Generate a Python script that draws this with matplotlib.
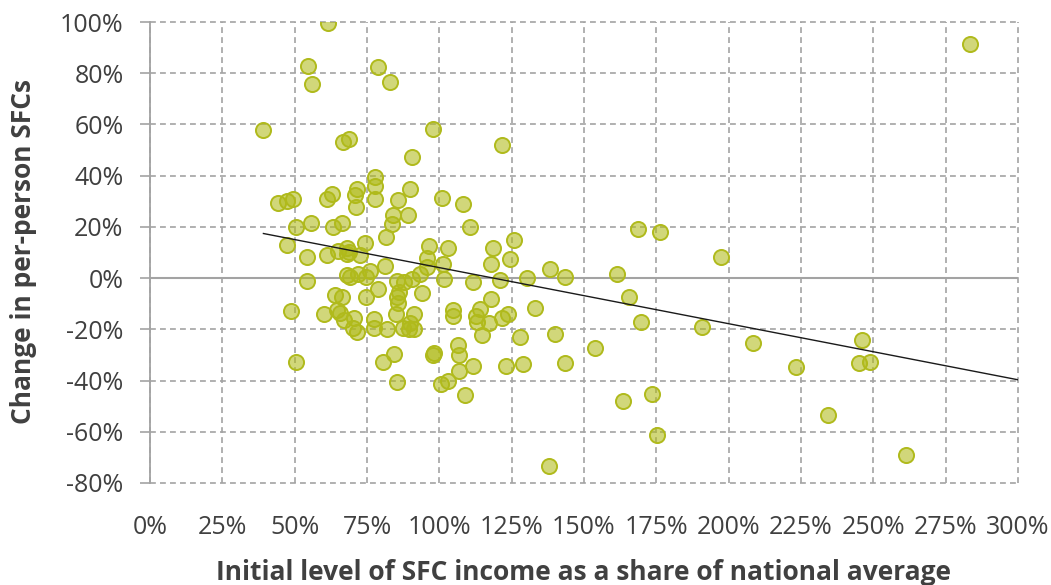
import numpy as np
import matplotlib
matplotlib.use("Agg")
import matplotlib.pyplot as plt
from matplotlib.ticker import FuncFormatter, MultipleLocator

# Initial level of SFC income as a share of national average (%)
x_share = [
    39.2, 54.7, 56.0, 61.5, 78.8, 82.8, 66.8, 68.8, 97.9, 90.7, 121.8, 100.9, 108.1, 283.4,
    44.3, 47.2, 49.3, 61.3, 63.0, 71.4, 71.0, 71.3, 77.9, 77.9, 77.9, 85.8, 89.9, 84.1,
    83.5, 89.2, 50.5, 55.7, 63.1, 66.4, 47.2, 54.4, 61.2, 65.1, 68.2, 68.8, 68.0, 72.6,
    74.3, 81.6, 96.5, 95.8, 95.8, 93.3, 90.6, 87.8, 85.5, 81.2, 76.0, 74.5, 71.8, 68.0,
    69.1, 54.4, 101.6, 78.9, 74.7, 63.9, 66.5, 86.2, 85.4, 85.7, 94.0, 48.8, 60.3, 64.5,
    65.7, 66.9, 70.6, 70.3, 71.4, 77.4, 77.4, 81.8, 85.0, 91.2, 87.3, 89.4, 90.0, 91.2,
    50.6, 80.6, 84.4, 85.3, 98.2, 97.8, 100.6, 103.0, 108.9, 110.7, 125.9, 118.7, 117.9,
    124.4, 103.0, 101.4, 111.7, 121.0, 130.4, 138.2, 143.3, 161.3, 117.8, 104.8, 104.6,
    114.1, 112.6, 113.1, 117.3, 121.6, 123.7, 133.1, 140.0, 114.7, 128.0, 153.9, 106.4,
    106.9, 106.8, 111.8, 123.0, 129.0, 143.5, 137.8, 168.8, 176.4, 197.2, 165.7, 169.6,
    190.8, 208.5, 223.3, 246.0, 244.9, 248.8, 163.5, 173.6, 175.1, 234.5, 261.2,
]
# Change in per-person SFCs (%)
change = [
    57.8, 82.8, 75.8, 99.7, 82.3, 76.6, 53.2, 54.4, 58.2, 47.3, 52.1, 31.1, 28.9, 91.4,
    29.4, 30.2, 31.0, 30.7, 32.8, 34.9, 32.3, 27.9, 39.6, 35.9, 30.7, 30.5, 34.6, 24.5,
    21.1, 24.7, 19.8, 21.4, 19.8, 21.6, 12.9, 8.1, 8.9, 10.7, 11.6, 10.3, 9.4, 9.1,
    13.8, 15.9, 12.4, 8.0, 4.5, 1.8, -0.4, -1.4, -1.0, 4.7, 2.6, 0.3, 1.6, 1.1,
    0.3, -1.1, -0.5, -4.2, -7.3, -6.6, -7.3, -5.3, -7.3, -9.6, -6.0, -13.0, -14.2, -12.5,
    -13.8, -16.2, -15.7, -19.3, -21.0, -15.8, -19.3, -19.8, -13.9, -14.1, -19.3, -19.8, -17.4, -19.7,
    -32.8, -32.8, -29.6, -40.4, -29.4, -29.9, -41.4, -40.1, -45.8, 19.8, 14.7, 11.6, 5.6,
    7.4, 11.6, 5.6, -1.4, -0.9, -0.1, 3.6, 0.3, 1.8, -8.3, -12.5, -14.7,
    -12.0, -14.6, -17.2, -17.5, -15.5, -14.1, -11.7, -21.8, -22.4, -23.1, -27.2, -26.0,
    -30.2, -36.1, -34.4, -34.2, -33.7, -33.3, -73.2, 19.1, 17.9, 8.2, -7.5, -17.1,
    -19.1, -25.4, -34.9, -24.3, -33.1, -32.6, -47.9, -45.4, -61.4, -53.4, -69.0,
]

# Linear trendline as shown in the chart (percentage points)
trend_intercept = 26.0
trend_slope = -0.219
trend_x_end = 300

x_label = "Initial level of SFC income as a share of national average"
y_label = "Change in per-person SFCs"

plt.rcParams['font.family'] = ['Open Sans', 'DejaVu Sans']

fig = plt.figure(figsize=(10.51, 5.85), dpi=100)
ax = fig.add_axes([150/1051, 1-483/585, (1018-150)/1051, (483-22)/585])

xs = np.array(x_share)
ys = np.array(change)

ax.scatter(xs, ys, s=118, facecolor=(0.69, 0.73, 0.10, 0.58),
           edgecolor='#b0ba1c', linewidth=1.4, zorder=3)

xt = np.array([xs.min(), trend_x_end])
ax.plot(xt, trend_intercept + trend_slope*xt, color='#1a1a1a', lw=1.0, zorder=4)

ax.set_xlim(0, 300)
ax.set_ylim(-80, 100)
ax.xaxis.set_major_locator(MultipleLocator(25))
ax.yaxis.set_major_locator(MultipleLocator(20))
ax.xaxis.set_major_formatter(FuncFormatter(lambda v, p: f"{v:.0f}%"))
ax.yaxis.set_major_formatter(FuncFormatter(lambda v, p: f"{v:.0f}%"))

grid_col = '#a3a3a3'
ax.grid(True, color=grid_col, linestyle=(0, (3.5, 2.5)), lw=1.2, zorder=0)
for gl in ax.get_xgridlines() + ax.get_ygridlines():
    gl.set_clip_on(False)

for s in ['top', 'right', 'bottom']:
    ax.spines[s].set_visible(False)
ax.spines['left'].set_color(grid_col)
ax.spines['left'].set_linewidth(1.3)
ax.axhline(0, color=grid_col, lw=1.5, zorder=1)

ax.tick_params(axis='y', direction='out', length=7, width=1.2, color=grid_col,
               labelsize=18, labelcolor='#404040', pad=12)
ax.tick_params(axis='x', length=0, labelsize=18, labelcolor='#404040', pad=23)

fig.text(584/1051, 1-580/585, x_label, fontsize=19, fontweight='bold',
         color='#404040', ha='center', va='baseline')
fig.text(24/1051, 1-251/585, y_label, fontsize=19, fontweight='bold',
         color='#404040', ha='center', va='center', rotation=90)

fig.savefig("out.png", dpi=100)
